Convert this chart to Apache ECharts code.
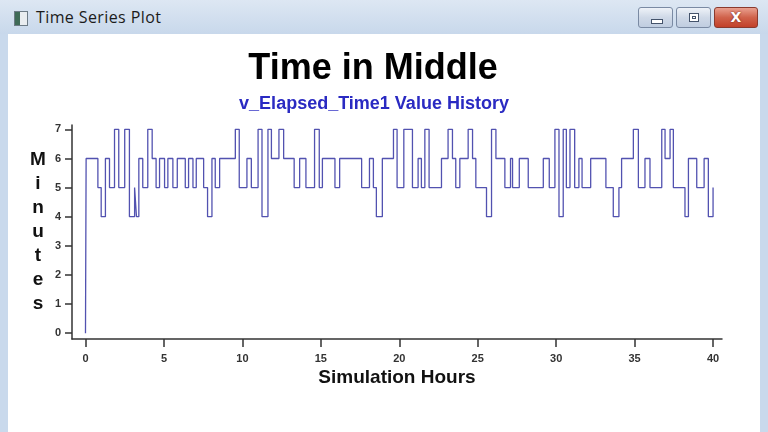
<!DOCTYPE html>
<html lang="en">
<head>
    <meta charset="UTF-8">
    <title>Time Series Plot</title>
    <script src="https://cdn.jsdelivr.net/npm/echarts@6/dist/echarts.min.js"></script>
    <style>
        html, body { margin: 0; padding: 0; }
        body { width: 768px; height: 432px; overflow: hidden; position: relative; background: #c9d9ec; font-family: "Open Sans", "Noto Sans", sans-serif; }
        .titlebar { position: absolute; left: 0; top: 0; width: 768px; height: 34px; background: linear-gradient(#dde7f3, #c8d8eb); }
        .titlebar .icon { position: absolute; left: 14px; top: 11px; width: 12px; height: 13px; border: 1px solid #6d7b86; background: linear-gradient(90deg, #3f6b57 0 45%, #e9edf0 45%); }
        .titlebar .caption { position: absolute; left: 36px; top: 6px; font-size: 16px; letter-spacing: 0.4px; color: #1b1b1b; }
        .btn { position: absolute; top: 7px; height: 21px; border: 1px solid #7a8aa3; border-radius: 3px; box-sizing: border-box; background: linear-gradient(#eef2f8, #cfd9e7 50%, #c0cde0); }
        .btn.min { left: 638px; width: 35px; }
        .btn.max { left: 676px; width: 35px; }
        .btn.close { left: 714px; width: 44px; border-color: #8a3a2e; background: linear-gradient(#e9a08f, #d0624b 50%, #c2412a); }
        .btn.min::after { content: ""; position: absolute; left: 12px; top: 11px; width: 10px; height: 3px; background: #fff; border: 1px solid #44536b; }
        .btn.max::after { content: ""; position: absolute; left: 12px; top: 5px; width: 8px; height: 7px; border: 1px solid #44536b; background: #fff; box-shadow: inset 0 0 0 2px #fff, inset 0 0 0 3px #44536b; }
        .btn.close span { position: absolute; left: 0; right: 0; top: 0; text-align: center; color: #fff; font: bold 14px "DejaVu Sans", sans-serif; line-height: 19px; text-shadow: 0 0 2px #6a1d12; }
        .content { position: absolute; left: 8px; top: 34px; width: 752px; height: 398px; background: #ffffff; }
        #chart { position: absolute; left: 0; top: 0; width: 768px; height: 432px; }
    </style>
</head>
<body>
    <div class="titlebar">
        <div class="icon"></div>
        <div class="caption">Time Series Plot</div>
        <div class="btn min"></div>
        <div class="btn max"></div>
        <div class="btn close"><span>X</span></div>
    </div>
    <div class="content"></div>
    <div id="chart"></div>

    <script>
        // step change points: time (hours) and the new value (minutes)
        const stepHours = [
            0, 0.04, 0.79, 1.0, 1.27, 1.53, 1.85, 2.12, 2.5, 2.8,
            3.13, 3.25, 3.4, 3.65, 3.97, 4.25, 4.5, 4.72, 5.04, 5.25,
            5.57, 5.85, 6.36, 6.57, 6.85, 7.06, 7.53, 7.78, 8.06, 8.27,
            8.55, 9.55, 9.8, 10.29, 10.57, 11.0, 11.25, 11.63, 11.85, 12.33,
            12.63, 13.3, 13.65, 14.05, 14.6, 14.9, 15.1, 15.9, 16.2, 17.6,
            18.1, 18.35, 18.54, 18.92, 19.63, 19.86, 20.29, 20.84, 21.2, 21.41,
            21.63, 21.9, 22.69, 23.11, 23.39, 23.6, 23.86, 24.39, 24.67, 24.88,
            25.56, 25.88, 26.16, 26.73, 27.09, 27.22, 27.65, 28.22, 29.18, 29.56,
            29.92, 30.18, 30.45, 30.65, 30.88, 31.18, 31.45, 31.65, 32.2, 33.17,
            33.64, 34.0, 34.17, 34.92, 35.24, 35.66, 35.98, 36.73, 36.94, 37.26,
            37.47, 38.21, 38.43, 38.96, 39.43, 39.7, 40
        ];
        const stepMinutes = [
            0, 6, 5, 4, 6, 5, 7, 5, 7, 4,
            5, 4, 6, 5, 7, 6, 5, 6, 5, 6,
            5, 6, 5, 6, 5, 6, 5, 4, 6, 5,
            6, 7, 5, 6, 5, 7, 4, 7, 6, 7,
            6, 5, 6, 5, 7, 5, 6, 5, 6, 5,
            6, 5, 4, 6, 7, 5, 7, 5, 6, 5,
            7, 5, 6, 7, 6, 5, 6, 7, 6, 5,
            4, 7, 6, 5, 6, 5, 6, 5, 6, 5,
            7, 4, 7, 5, 7, 5, 6, 5, 6, 5,
            4, 5, 6, 7, 5, 6, 5, 7, 6, 7,
            5, 4, 6, 5, 6, 4, 5
        ];
        const xTicks = [0, 5, 10, 15, 20, 25, 30, 35, 40];
        const yTicks = [0, 1, 2, 3, 4, 5, 6, 7];

        const points = stepHours.map((h, i) => [h, stepMinutes[i]]);

        const chart = echarts.init(document.getElementById('chart'));
        chart.setOption({
            animation: false,
            backgroundColor: 'transparent',
            title: [
                {
                    text: 'Time in Middle',
                    left: 368, top: 46, textAlign: 'center',
                    textStyle: { fontFamily: 'Liberation Sans', fontWeight: 'bold', fontSize: 36, color: '#000' }
                },
                {
                    text: 'v_Elapsed_Time1 Value History',
                    left: 369, top: 90, textAlign: 'center',
                    textStyle: { fontFamily: 'Liberation Sans', fontWeight: 'bold', fontSize: 18, color: '#2a2ac2' }
                }
            ],
            grid: { left: 72, right: 46, top: 125, bottom: 93, containLabel: false },
            xAxis: {
                type: 'value',
                min: -0.86, max: 40.57,
                name: 'Simulation Hours',
                nameLocation: 'middle',
                nameGap: 29,
                nameTextStyle: { fontFamily: 'Liberation Sans', fontWeight: 'bold', fontSize: 19, color: '#111' },
                splitLine: { show: false },
                axisLine: { onZero: false, lineStyle: { color: '#333', width: 1.5 } },
                axisTick: { customValues: xTicks, length: 8, lineStyle: { color: '#333', width: 1.5 } },
                axisLabel: { customValues: xTicks, margin: 14, fontFamily: 'Liberation Sans', fontWeight: 'bold', fontSize: 11, color: '#333' }
            },
            yAxis: {
                type: 'value',
                min: -0.2, max: 7.15,
                name: 'M\ni\nn\nu\nt\ne\ns',
                nameLocation: 'middle',
                nameRotate: 0,
                nameGap: 34,
                nameTextStyle: { fontFamily: 'Liberation Sans', fontWeight: 'bold', fontSize: 19, lineHeight: 24, align: 'center', color: '#111' },
                splitLine: { show: false },
                axisLine: { show: true, onZero: false, lineStyle: { color: '#333', width: 1.5 } },
                axisTick: { show: true, customValues: yTicks, length: 7, lineStyle: { color: '#333', width: 1.5 } },
                axisLabel: { customValues: yTicks, margin: 11, fontFamily: 'Liberation Sans', fontWeight: 'bold', fontSize: 11, color: '#333' }
            },
            series: [{
                type: 'line',
                step: 'end',
                data: points,
                showSymbol: false,
                lineStyle: { color: '#5252b0', width: 1.3 }
            }]
        });
    </script>
</body>
</html>
